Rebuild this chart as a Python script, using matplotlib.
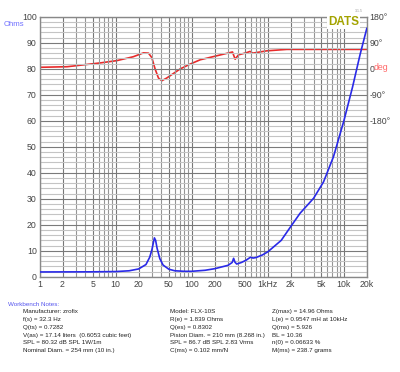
import numpy as np
import matplotlib
matplotlib.use("Agg")
import matplotlib.pyplot as plt
from matplotlib.ticker import FixedLocator, NullFormatter

plt.rcParams['font.family'] = ['Liberation Sans', 'DejaVu Sans']

# impedance magnitude (ohms)
imp_freq = [1, 5, 10, 15, 20, 25, 28, 30, 31.5, 32.3, 33.5, 35, 38, 42, 50, 60, 80, 100,
            150, 200, 300, 340, 355, 370, 390, 450, 520, 590, 640, 700, 850, 1000, 1500,
            2000, 2650, 4000, 5400, 7300, 10000, 13000, 16300, 20000]
imp_ohms = [1.85, 1.9, 2.0, 2.3, 3.0, 4.7, 7.5, 10.5, 13.5, 14.96, 14.0, 11.0, 7.0, 4.5,
            2.9, 2.3, 2.1, 2.1, 2.5, 3.1, 4.4, 5.5, 7.1, 5.6, 4.9, 5.5, 6.4, 7.5, 7.2, 7.4,
            8.4, 9.6, 14.0, 19.3, 24.4, 30.2, 36.5, 46.2, 60.0, 73.0, 85.4, 95.5]

# impedance phase (degrees)
ph_freq = [1, 2.3, 6.2, 10.3, 17, 23.2, 27, 29.8, 33, 36.5, 40.4, 47, 70, 95, 129, 214,
           319, 343, 372, 411, 530, 585, 634, 970, 1778, 20000]
ph_deg = [5, 7, 20, 28, 41.5, 55, 54, 39, -1, -32, -41.5, -32, -1, 16, 31, 45, 56, 58,
          33, 48, 56, 60, 54, 62, 67, 67]

xticks = [1, 2, 5, 10, 20, 50, 100, 200, 500, 1000, 2000, 5000, 10000, 20000]
xlabels = ["1", "2", "5", "10", "20", "50", "100", "200", "500", "1kHz", "2k", "5k", "10k", "20k"]
ph_ticks = [180, 90, 0, -90, -180]
ph_labels = ["180°", "90°", "0", "-90°", "-180°"]

notes_col1 = ["Manufacturer: zrofix", "f(s) = 32.3 Hz", "Q(ts) = 0.7282",
              "V(as) = 17.14 liters  (0.6053 cubic feet)", "SPL = 80.32 dB SPL 1W/1m",
              "Nominal Diam. = 254 mm (10 in.)"]
notes_col2 = ["Model: FLX-10S", "R(e) = 1.839 Ohms", "Q(es) = 0.8302",
              "Piston Diam. = 210 mm (8.268 in.)", "SPL = 86.7 dB SPL 2.83 Vrms",
              "C(ms) = 0.102 mm/N"]
notes_col3 = ["Z(max) = 14.96 Ohms", "L(e) = 0.9547 mH at 10kHz", "Q(ms) = 5.926",
              "BL = 10.36", "n(0) = 0.06633 %", "M(ms) = 238.7 grams"]

fig = plt.figure(figsize=(4.0, 3.72), dpi=100)
ax = fig.add_axes([0.099, 0.256, 0.818, 0.699])

ax.set_xscale("log")
ax.set_xlim(1, 20000)
ax.set_ylim(0, 100)

# grid
minor_x = [m * 10 ** d for d in range(5) for m in range(1, 10) if m * 10 ** d <= 20000]
ax.xaxis.set_minor_locator(FixedLocator(minor_x))
ax.xaxis.set_minor_formatter(NullFormatter())
ax.set_xticks(xticks)
ax.set_xticklabels(xlabels)
ax.set_yticks(np.arange(0, 101, 10))
ax.set_yticks(np.arange(0, 101, 2), minor=True)
ax.grid(True, which="minor", axis="y", color="#c4c4c4", lw=0.8)
ax.grid(True, which="major", axis="y", color="#7a7a7a", lw=0.8)
ax.grid(True, which="minor", axis="x", color="#959595", lw=0.8)
ax.grid(True, which="major", axis="x", color="#777777", lw=0.8)
ax.set_axisbelow(True)
ax.tick_params(which="both", length=0, labelsize=6.3, labelcolor="#444444", pad=2)
for s in ax.spines.values():
    s.set_color("#888888")
    s.set_linewidth(1.0)

# phase on its own scale: 180 deg at the top, 9 deg per ohm
ax2 = ax.twinx()
ax2.set_ylim(-720, 180)
ax2.set_yticks(ph_ticks)
ax2.set_yticklabels(ph_labels)
ax2.tick_params(length=0, labelsize=6.3, labelcolor="#444444", pad=2)
for s in ax2.spines.values():
    s.set_visible(False)

ax2.plot(ph_freq, ph_deg, color="#e82a2a", lw=1.2, zorder=3)
ax.plot(imp_freq, imp_ohms, color="#2a2ae8", lw=1.2, zorder=4)
ax.set_zorder(ax2.get_zorder() + 1)
ax.patch.set_visible(False)

fig.text(0.01, 1 - 24 / 372, "Ohms", color="#6f6fff", fontsize=5.6, va="center")
fig.text(0.933, 1 - 67.5 / 372, "deg", color="#ff6a6a", fontsize=6.3, va="center")
fig.text(0.82, 1 - 22 / 372, "DATS", color="#a3a300", fontsize=8.5, fontweight="bold",
         va="center", ha="left",
         bbox=dict(facecolor="white", edgecolor="none", pad=1.0))
fig.text(0.888, 1 - 11 / 372, "3.1.5", color="#999999", fontsize=2.5, va="center")

fig.text(0.02, 1 - 304.3 / 372, "Workbench Notes:", color="#5555ee", fontsize=4.5, va="center")
for col_x, col in [(0.057, notes_col1), (0.425, notes_col2), (0.679, notes_col3)]:
    for i, line in enumerate(col):
        fig.text(col_x, 1 - (311.7 + i * 7.8) / 372, line, color="#222222",
                 fontsize=4.5, va="center")

fig.savefig("out.png", dpi=100)
